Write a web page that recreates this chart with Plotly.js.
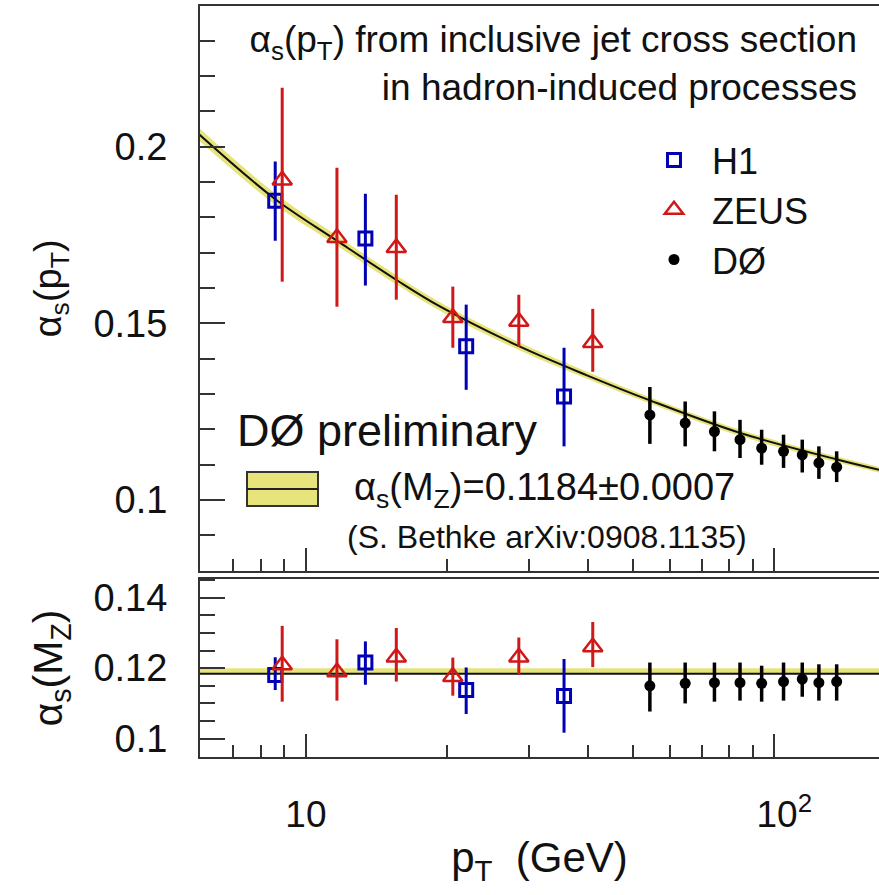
<!DOCTYPE html>
<html>
<head>
<meta charset="utf-8">
<script src="https://cdn.plot.ly/plotly-3.0.1.min.js"></script>
<style>
  html, body { margin: 0; padding: 0; background: #ffffff; }
  #chart { width: 879px; height: 895px; }
</style>
</head>
<body>
<div id="chart"></div>
<script>
// Running coupling alpha_s(pT) from inclusive jet cross sections,
// top: alpha_s at the scale pT, bottom: evolved to M_Z.

// H1 (open squares)
const h1Pt      = [8.6, 13.4, 22.0, 35.6];
const h1As      = [0.1847, 0.1740, 0.1435, 0.1293];
const h1Up      = [0.0111, 0.0127, 0.0118, 0.0138];
const h1Down    = [0.0113, 0.0133, 0.0123, 0.0141];
const h1AsMZ    = [0.1181, 0.1216, 0.1138, 0.1121];
const h1UpMZ    = [0.0050, 0.0060, 0.0064, 0.0105];
const h1DownMZ  = [0.0043, 0.0063, 0.0068, 0.0104];

// ZEUS (open triangles)
const zeusPt     = [8.9, 11.65, 15.6, 20.6, 28.5, 41.0];
const zeusAs     = [0.1905, 0.1742, 0.1714, 0.1516, 0.1505, 0.1445];
const zeusUp     = [0.0262, 0.0198, 0.0150, 0.0088, 0.0076, 0.0096];
const zeusDown   = [0.0287, 0.0195, 0.0147, 0.0085, 0.0071, 0.0082];
const zeusAsMZ   = [0.1209, 0.1189, 0.1231, 0.1176, 0.1231, 0.1260];
const zeusUpMZ   = [0.0111, 0.0093, 0.0083, 0.0054, 0.0056, 0.0071];
const zeusDownMZ = [0.0104, 0.0081, 0.0069, 0.0054, 0.0050, 0.0057];

// DØ (full circles)
const d0Pt     = [54.3, 64.6, 74.6, 84.6, 94.1, 104.8, 114.9, 124.7, 136.1];
const d0As     = [0.1241, 0.1218, 0.1194, 0.1171, 0.1147, 0.1138, 0.1128, 0.1105, 0.1093];
const d0Up     = [0.0079, 0.0061, 0.0057, 0.0056, 0.0052, 0.0047, 0.0043, 0.0047, 0.0045];
const d0Down   = [0.0082, 0.0066, 0.0056, 0.0052, 0.0047, 0.0047, 0.0050, 0.0045, 0.0042];
const d0AsMZ   = [0.1150, 0.1157, 0.1159, 0.1159, 0.1157, 0.1162, 0.1169, 0.1159, 0.1162];
const d0UpMZ   = [0.0066, 0.0059, 0.0057, 0.0057, 0.0050, 0.0054, 0.0047, 0.0052, 0.0049];
const d0DownMZ = [0.0073, 0.0057, 0.0054, 0.0051, 0.0052, 0.0054, 0.0050, 0.0051, 0.0054];

// World average evolution: alpha_s(M_Z) = 0.1184 +- 0.0007
const worldPt    = [5.9, 8.59, 11.65, 15.65, 19.33, 28.67, 39.85, 54.33, 84.6, 136.3, 170];
const worldAs    = [0.2036, 0.1852, 0.1734, 0.1622, 0.1548, 0.1434, 0.1353, 0.1282, 0.1190, 0.1115, 0.1084];
const worldHalf  = [0.0018, 0.0016, 0.0014, 0.0013, 0.0012, 0.0011, 0.0010, 0.0009, 0.0009, 0.0008, 0.0008];
const mzLinePt   = [5.9, 170];
const mzLineAs   = [0.1184, 0.1184];
const mzBandLo   = [0.1185, 0.1185];
const mzBandHi   = [0.1200, 0.1200];

// Axis ticks
const xMajor      = [10, 100];
const xMajorText  = ['10', '\u00a0\u00a010<sup>2</sup>'];
const xMinor      = [7, 8, 9, 20, 30, 40, 50, 60, 70, 80, 90];
const yTopMajor   = [0.1, 0.15, 0.2];
const yTopText    = ['0.1', '0.15', '0.2'];
const yBotMajor   = [0.1, 0.12, 0.14];
const yBotText    = ['0.1', '0.12', '0.14'];

const FONT = 'Liberation Sans, Arial, Helvetica, sans-serif';
const BLUE = '#0000b4';
const RED = '#d01818';
const BLACK = '#000000';
const YELLOW = '#e6e47a';
const AXIS = '#333333';
const INK = '#111111';

const worldLo = worldAs.map((v, i) => v - worldHalf[i]);
const worldHi = worldAs.map((v, i) => v + worldHalf[i]);

function errs(up, down, color, thick) {
  return { type: 'data', symmetric: false, array: up, arrayminus: down,
           color: color, thickness: thick, width: 0 };
}

const traces = [
  // top panel: band and central line
  { x: worldPt, y: worldLo, xaxis: 'x2', yaxis: 'y2', mode: 'lines',
    line: { width: 0, shape: 'spline', color: YELLOW }, showlegend: false, hoverinfo: 'skip' },
  { x: worldPt, y: worldHi, xaxis: 'x2', yaxis: 'y2', mode: 'lines', fill: 'tonexty',
    fillcolor: YELLOW, line: { width: 0, shape: 'spline', color: YELLOW }, showlegend: false, hoverinfo: 'skip' },
  { x: worldPt, y: worldAs, xaxis: 'x2', yaxis: 'y2', mode: 'lines',
    line: { width: 2, shape: 'spline', color: INK }, showlegend: false },

  // bottom panel: band and central line
  { x: mzLinePt, y: mzBandLo, xaxis: 'x', yaxis: 'y', mode: 'lines',
    line: { width: 0, color: YELLOW }, showlegend: false, hoverinfo: 'skip' },
  { x: mzLinePt, y: mzBandHi, xaxis: 'x', yaxis: 'y', mode: 'lines', fill: 'tonexty',
    fillcolor: YELLOW, line: { width: 0, color: YELLOW }, showlegend: false, hoverinfo: 'skip' },
  { x: mzLinePt, y: mzLineAs, xaxis: 'x', yaxis: 'y', mode: 'lines',
    line: { width: 2, color: INK }, showlegend: false },

  // top panel: measurements
  { name: 'H1', x: h1Pt, y: h1As, xaxis: 'x2', yaxis: 'y2', mode: 'markers',
    marker: { symbol: 'square-open', size: 13, color: BLUE, line: { width: 3, color: BLUE } },
    error_y: errs(h1Up, h1Down, BLUE, 3) },
  { name: 'ZEUS', x: zeusPt, y: zeusAs, xaxis: 'x2', yaxis: 'y2', mode: 'markers',
    marker: { symbol: 'triangle-up-open', size: 17, color: RED, line: { width: 2.5, color: RED } },
    error_y: errs(zeusUp, zeusDown, RED, 3) },
  { name: 'DØ', x: d0Pt, y: d0As, xaxis: 'x2', yaxis: 'y2', mode: 'markers',
    marker: { symbol: 'circle', size: 11, color: BLACK },
    error_y: errs(d0Up, d0Down, BLACK, 3.5) },

  // bottom panel: measurements evolved to M_Z
  { name: 'H1', showlegend: false, x: h1Pt, y: h1AsMZ, xaxis: 'x', yaxis: 'y', mode: 'markers',
    marker: { symbol: 'square-open', size: 13, color: BLUE, line: { width: 3, color: BLUE } },
    error_y: errs(h1UpMZ, h1DownMZ, BLUE, 3) },
  { name: 'ZEUS', showlegend: false, x: zeusPt, y: zeusAsMZ, xaxis: 'x', yaxis: 'y', mode: 'markers',
    marker: { symbol: 'triangle-up-open', size: 17, color: RED, line: { width: 2.5, color: RED } },
    error_y: errs(zeusUpMZ, zeusDownMZ, RED, 3) },
  { name: 'DØ', showlegend: false, x: d0Pt, y: d0AsMZ, xaxis: 'x', yaxis: 'y', mode: 'markers',
    marker: { symbol: 'circle', size: 11, color: BLACK },
    error_y: errs(d0UpMZ, d0DownMZ, BLACK, 3.5) }
];

const xRange = [Math.log10(5.94), Math.log10(167.6)];

const xCommon = {
  type: 'log', range: xRange, showgrid: false, zeroline: false,
  showline: true, mirror: true, linecolor: AXIS, linewidth: 2,
  ticks: 'inside', ticklen: 23, tickwidth: 2, tickcolor: AXIS,
  tickmode: 'array', tickvals: xMajor, ticktext: xMajorText,
  minor: { tickmode: 'array', tickvals: xMinor, ticks: 'inside', ticklen: 12, tickwidth: 2, tickcolor: AXIS, showgrid: false }
};

const yCommon = {
  showgrid: false, zeroline: false, showline: true, mirror: false,
  linecolor: AXIS, linewidth: 2, ticks: 'inside', ticklen: 25, tickwidth: 2, tickcolor: AXIS,
  tickmode: 'array', tickfont: { family: FONT, size: 38, color: INK },
  ticklabelstandoff: 23
};

const layout = {
  width: 879, height: 895,
  margin: { l: 200, r: 0, t: 6, b: 138 },
  paper_bgcolor: '#ffffff', plot_bgcolor: 'rgba(0,0,0,0)',
  font: { family: FONT, color: INK },
  title: {
    text: 'α<sub>s</sub>(p<sub>T</sub>) from inclusive jet cross section<br>in hadron-induced processes',
    font: { family: FONT, size: 37, color: INK },
    xref: 'container', x: 857 / 879, xanchor: 'right',
    yref: 'container', y: 1 - 52 / 895, yanchor: 'top'
  },
  xaxis: Object.assign({}, xCommon, {
    anchor: 'y', showticklabels: true,
    tickfont: { family: FONT, size: 37, color: INK },
    ticklabelstandoff: 24,
    title: { text: 'p<sub>T</sub>\u00a0\u00a0(GeV)', font: { family: FONT, size: 42, color: INK }, standoff: 8 }
  }),
  xaxis2: Object.assign({}, xCommon, { anchor: 'y2', matches: 'x', showticklabels: false }),
  yaxis: Object.assign({}, yCommon, {
    domain: [0, 0.237], range: [0.0948, 0.1453], anchor: 'x',
    tickvals: yBotMajor, ticktext: yBotText,
    minor: { dtick: 0.005, tick0: 0, ticks: 'inside', ticklen: 15, tickwidth: 2, tickcolor: AXIS, showgrid: false },
    title: { text: 'α<sub>s</sub>(M<sub>Z</sub>)', font: { family: FONT, size: 41, color: INK }, standoff: 18 }
  }),
  yaxis2: Object.assign({}, yCommon, {
    domain: [0.248, 1], range: [0.08, 0.2398], anchor: 'x2',
    tickvals: yTopMajor, ticktext: yTopText,
    minor: { dtick: 0.01, tick0: 0, ticks: 'inside', ticklen: 15, tickwidth: 2, tickcolor: AXIS, showgrid: false },
    title: { text: 'α<sub>s</sub>(p<sub>T</sub>)', font: { family: FONT, size: 38, color: INK }, standoff: 20 }
  }),
  showlegend: true,
  legend: {
    x: (636 - 200) / 679, xanchor: 'left', xref: 'paper',
    y: (757 - 130) / 751, yanchor: 'top', yref: 'paper',
    font: { family: FONT, size: 36, color: INK },
    bgcolor: 'rgba(0,0,0,0)', borderwidth: 0, traceorder: 'normal',
    tracegroupgap: 0, itemsizing: 'trace', itemwidth: 66
  },
  shapes: [
    // key for the world-average band
    { type: 'rect', xref: 'paper', yref: 'paper',
      x0: (247 - 200) / 679, x1: (318 - 200) / 679,
      y0: (757 - 506) / 751, y1: (757 - 472) / 751,
      fillcolor: YELLOW, line: { color: AXIS, width: 2 } },
    { type: 'line', xref: 'paper', yref: 'paper',
      x0: (247 - 200) / 679, x1: (318 - 200) / 679,
      y0: (757 - 489) / 751, y1: (757 - 489) / 751,
      line: { color: '#222', width: 2 } }
  ],
  annotations: [
    { text: 'DØ preliminary', xref: 'paper', yref: 'paper',
      x: (235 - 200) / 679, xanchor: 'left', y: (757 - 430) / 751, yanchor: 'middle',
      showarrow: false, font: { family: FONT, size: 45, color: INK } },
    { text: 'α<sub>s</sub>(M<sub>Z</sub>)=0.1184±0.0007', xref: 'paper', yref: 'paper',
      x: (352 - 200) / 679, xanchor: 'left', y: (757 - 490) / 751, yanchor: 'middle',
      showarrow: false, font: { family: FONT, size: 38, color: INK } },
    { text: '(S. Bethke arXiv:0908.1135)', xref: 'paper', yref: 'paper',
      x: (345 - 200) / 679, xanchor: 'left', y: (757 - 537) / 751, yanchor: 'middle',
      showarrow: false, font: { family: FONT, size: 32, color: INK } }
  ]
};

Plotly.newPlot('chart', traces, layout, { staticPlot: true, displayModeBar: false });
</script>
</body>
</html>
